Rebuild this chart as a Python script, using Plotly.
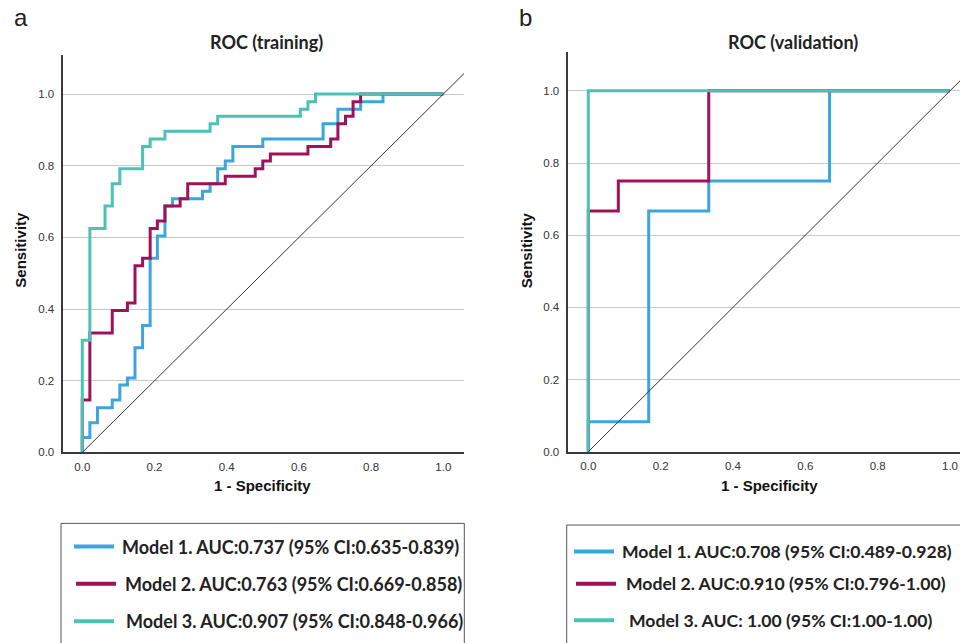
import plotly.graph_objects as go

W, H = 960, 643

# ---------------- data ----------------
train_m1_fpr = [0, 0.021, 0.042, 0.083, 0.104, 0.125, 0.146, 0.167, 0.188, 0.208, 0.229, 0.25,
                0.333, 0.354, 0.375, 0.396, 0.417, 0.5, 0.667, 0.708, 0.771, 0.833, 1.0]
train_m1_tpr = [0, 0.042, 0.083, 0.125, 0.146, 0.188, 0.208, 0.292, 0.354, 0.542, 0.604, 0.688,
                0.708, 0.729, 0.75, 0.792, 0.813, 0.854, 0.875, 0.917, 0.958, 0.979, 1.0]

train_m2_fpr = [0, 0.021, 0.083, 0.125, 0.146, 0.167, 0.188, 0.208, 0.229, 0.271, 0.292, 0.396,
                0.479, 0.5, 0.521, 0.625, 0.688, 0.708, 0.729, 0.75, 0.771, 1.0]
train_m2_tpr = [0, 0.146, 0.333, 0.396, 0.417, 0.521, 0.542, 0.625, 0.646, 0.688, 0.708, 0.75,
                0.771, 0.792, 0.813, 0.833, 0.854, 0.875, 0.917, 0.938, 0.979, 1.0]

train_m3_fpr = [0, 0.021, 0.063, 0.083, 0.104, 0.167, 0.188, 0.229, 0.354, 0.375, 0.604, 0.625, 0.646, 1.0]
train_m3_tpr = [0, 0.313, 0.625, 0.688, 0.75, 0.792, 0.854, 0.875, 0.896, 0.917, 0.938, 0.958, 0.979, 1.0]

valid_m1_fpr = [0, 0.167, 0.333, 0.667, 1.0]
valid_m1_tpr = [0, 0.083, 0.667, 0.75, 1.0]
valid_m2_fpr = [0, 0.083, 0.333, 1.0]
valid_m2_tpr = [0, 0.667, 0.75, 1.0]
valid_m3_fpr = [0, 1.0]
valid_m3_tpr = [0, 1.0]

tick_vals = [0.0, 0.2, 0.4, 0.6, 0.8, 1.0]
tick_text = ["0.0", "0.2", "0.4", "0.6", "0.8", "1.0"]

train_labels = ["Model 1. AUC:0.737 (95% CI:0.635-0.839)",
                "Model 2. AUC:0.763 (95% CI:0.669-0.858)",
                "Model 3. AUC:0.907 (95% CI:0.848-0.966)"]
valid_labels = ["Model 1. AUC:0.708 (95% CI:0.489-0.928)",
                "Model 2. AUC:0.910 (95% CI:0.796-1.00)",
                "Model 3. AUC: 1.00 (95% CI:1.00-1.00)"]

colors = ["#3da5de", "#a0115a", "#4cc1b6"]

# ---------------- layout helpers ----------------
def px(x):
    return x / W

def py(y):
    return 1 - y / H

TXT = "#222222"
AX = "#3a3a3a"
GRID = "#c9c9c9"

fig = go.Figure()

train = [(train_m1_fpr, train_m1_tpr), (train_m2_fpr, train_m2_tpr), (train_m3_fpr, train_m3_tpr)]
valid = [(valid_m1_fpr, valid_m1_tpr), (valid_m2_fpr, valid_m2_tpr), (valid_m3_fpr, valid_m3_tpr)]

for i, (fx, ty) in enumerate(train):
    fig.add_trace(go.Scatter(x=fx, y=ty, mode="lines", line=dict(color=colors[i], width=3, shape="vh"),
                             xaxis="x", yaxis="y", showlegend=False, name=train_labels[i]))
for i, (fx, ty) in enumerate(valid):
    fig.add_trace(go.Scatter(x=fx, y=ty, mode="lines", line=dict(color=colors[i], width=3, shape="vh"),
                             xaxis="x2", yaxis="y2", showlegend=False, name=valid_labels[i]))

# axis ranges (pixel-calibrated)
x1_range = [-0.0526, 1.0573]
y1_range = [0, 1.1078]
x2_range = [-0.0553, 1.0277]
y2_range = [0, 1.109]

tickfont = dict(family="Liberation Sans, Arial", size=11.5, color="#333333")

def xa(domain, rng):
    return dict(domain=domain, range=rng, showgrid=False, zeroline=False, showline=True,
                linecolor=AX, linewidth=1.5, tickvals=tick_vals, ticktext=tick_text,
                ticks="", tickfont=tickfont, ticklabelstandoff=3, fixedrange=True)

def ya(domain, rng):
    return dict(domain=domain, range=rng, showgrid=True, gridcolor=GRID, gridwidth=1,
                zeroline=False, showline=True, linecolor=AX, linewidth=1.5,
                tickvals=tick_vals, ticktext=tick_text, ticks="", tickfont=tickfont,
                ticklabelstandoff=5, fixedrange=True)

fig.update_layout(
    width=W, height=H, autosize=False,
    margin=dict(l=0, r=0, t=0, b=0),
    paper_bgcolor="white", plot_bgcolor="white",
    xaxis=dict(xa([px(63.3), px(464)], x1_range), anchor="y"),
    yaxis=dict(ya([py(456.7), py(56)], y1_range), anchor="x"),
    xaxis2=dict(xa([px(568.3), 1.0], x2_range), anchor="y2"),
    yaxis2=dict(ya([py(456), py(52)], y2_range), anchor="x2"),
)

# diagonal reference lines
for xr, yr, rng in [("x", "y", x1_range), ("x2", "y2", x2_range)]:
    fig.add_shape(type="line", xref=xr, yref=yr, x0=0, y0=0, x1=rng[1], y1=rng[1],
                  line=dict(color="#333333", width=1), layer="above")

# titles / labels
title_font = dict(family="Lato", size=18, color=TXT, weight="bold")
axis_title_font = dict(family="Liberation Sans, Arial", size=15, color="#111111", weight="bold")

ann = []
ann.append(dict(text="a", x=px(12), y=py(18), xref="paper", yref="paper", xanchor="left", yanchor="middle",
                showarrow=False, font=dict(family="Liberation Sans", size=24, color=TXT)))
ann.append(dict(text="b", x=px(517), y=py(18), xref="paper", yref="paper", xanchor="left", yanchor="middle",
                showarrow=False, font=dict(family="Liberation Sans", size=24, color=TXT)))
ann.append(dict(text="ROC (training)", x=px(266), y=py(42), xref="paper", yref="paper",
                xanchor="center", yanchor="middle", showarrow=False, font=title_font))
ann.append(dict(text="ROC (validation)", x=px(792.5), y=py(42), xref="paper", yref="paper",
                xanchor="center", yanchor="middle", showarrow=False, font=title_font))
ann.append(dict(text="1 - Specificity", x=0.5, y=py(490), xref="x", yref="paper",
                xanchor="center", yanchor="middle", showarrow=False, font=axis_title_font))
ann.append(dict(text="1 - Specificity", x=0.5, y=py(490), xref="x2", yref="paper",
                xanchor="center", yanchor="middle", showarrow=False, font=axis_title_font))
ann.append(dict(text="Sensitivity", x=px(21), y=py(252), xref="paper", yref="paper", textangle=-90,
                xanchor="center", yanchor="middle", showarrow=False, font=axis_title_font))
ann.append(dict(text="Sensitivity", x=px(526.5), y=py(253), xref="paper", yref="paper", textangle=-90,
                xanchor="center", yanchor="middle", showarrow=False, font=axis_title_font))

# legend boxes (drawn manually to match the reference framing)
legend_fonts = [dict(family="Lato", size=18, color=TXT, weight="bold"),
                dict(family="Lato", size=17.6, color=TXT, weight="bold")]
shapes = []
shapes.append(dict(type="rect", xref="paper", yref="paper", x0=px(61), x1=px(464.3), y0=py(660), y1=py(528.3),
                   line=dict(color="#555555", width=1), fillcolor="rgba(0,0,0,0)"))
shapes.append(dict(type="rect", xref="paper", yref="paper", x0=px(566.7), x1=px(990), y0=py(660), y1=py(530),
                   line=dict(color="#555555", width=1), fillcolor="rgba(0,0,0,0)"))

left_rows = [(74, 120, 551.7), (76, 122.7, 589.3), (74, 124.3, 627)]
right_rows = [(574, 620, 556.7), (576, 624, 589.3), (574, 627.3, 626)]
for k, (rows, labels) in enumerate([(left_rows, train_labels), (right_rows, valid_labels)]):
    for i, (lx, tx, ry) in enumerate(rows):
        shapes.append(dict(type="line", xref="paper", yref="paper", x0=px(lx), x1=px(lx + 40),
                           y0=py(ry), y1=py(ry), line=dict(color=colors[i], width=4)))
        ann.append(dict(text=labels[i], x=px(tx), y=py(ry), xref="paper", yref="paper",
                        xanchor="left", yanchor="middle", showarrow=False, font=legend_fonts[k]))

fig.update_layout(annotations=ann)
for s in shapes:
    fig.add_shape(**s)

# pin the 960x643 figure to the window's top-left corner, with no page margin or scrolling
post = ("var gd=document.getElementById('{plot_id}');"
        "gd.style.position='fixed';gd.style.left='0px';gd.style.top='0px';"
        "document.documentElement.style.margin='0';document.body.style.margin='0';"
        "document.documentElement.style.overflow='hidden';document.body.style.overflow='hidden';")
fig.write_html("out.html", config={"displayModeBar": False}, post_script=post)
